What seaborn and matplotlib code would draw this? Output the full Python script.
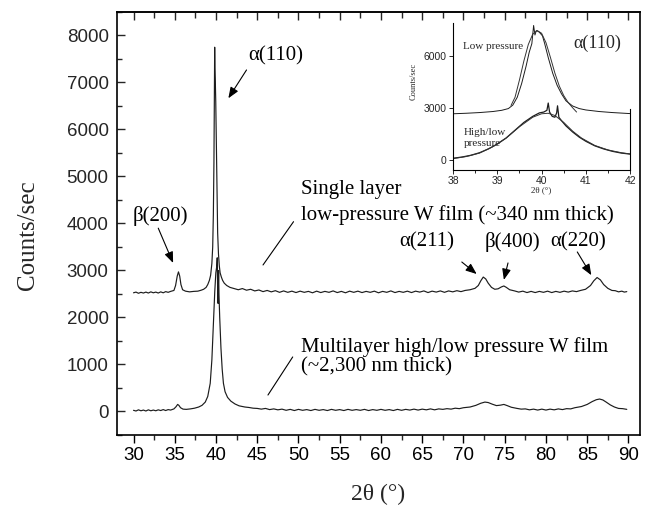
import matplotlib
matplotlib.use('Agg')
import matplotlib.pyplot as plt
import seaborn as sns
from matplotlib.ticker import MultipleLocator

# ---------------- data ----------------
# Single layer, low-pressure W film (main panel)
single_x = [30.0, 30.3, 30.6, 30.9, 31.2, 31.5, 31.8, 32.1, 32.4, 32.7, 33.0, 33.3, 33.6, 33.9,
            34.2, 34.5, 34.9, 35.1, 35.3, 35.45, 35.6, 35.75, 35.95, 36.3, 36.8, 37.3, 37.8,
            38.2, 38.5, 38.8, 39.0, 39.2, 39.35, 39.5, 39.6, 39.68, 39.75, 39.8, 39.84, 39.87,
            39.92, 39.97, 40.05, 40.12, 40.2, 40.3, 40.4, 40.5, 40.65, 40.8, 41.0, 41.3, 41.7,
            42.2, 42.7, 43.2, 43.7, 44.2, 44.7, 45.2, 45.7, 46.2, 46.7, 47.2, 47.7, 48.2, 48.7,
            49.2, 49.7, 50.2, 50.7, 51.2, 51.7, 52.2, 52.7, 53.2, 53.7, 54.2, 54.7, 55.2, 55.7,
            56.2, 56.7, 57.2, 57.7, 58.2, 58.7, 59.2, 59.7, 60.2, 60.7, 61.2, 61.7, 62.2, 62.7,
            63.2, 63.7, 64.2, 64.7, 65.2, 65.7, 66.2, 66.7, 67.2, 67.7, 68.2, 68.7, 69.2, 69.7,
            70.2, 70.8, 71.4, 71.8, 72.1, 72.4, 72.7, 73.0, 73.4, 73.8, 74.2, 74.6, 74.9, 75.2,
            75.6, 76.2, 76.7, 77.2, 77.7, 78.2, 78.7, 79.2, 79.7, 80.2, 80.7, 81.2, 81.7, 82.2,
            82.7, 83.2, 83.7, 84.2, 84.8, 85.4, 85.8, 86.2, 86.6, 87.0, 87.5, 88.0, 88.4, 88.8,
            89.2, 89.5, 89.8]
single_y = [2525, 2540, 2515, 2535, 2520, 2540, 2520, 2545, 2525, 2540, 2520, 2545, 2525, 2550,
            2535, 2555, 2575, 2680, 2880, 2970, 2880, 2700, 2590, 2560, 2545, 2555, 2560,
            2580, 2600, 2640, 2700, 2790, 2900, 3150, 3500, 4200, 5300, 6500, 7750, 7300,
            7000, 6600, 5600, 4600, 3800, 3350, 3100, 2950, 2860, 2790, 2730, 2680, 2640,
            2615, 2590, 2615, 2580, 2600, 2565, 2585, 2550, 2575, 2545, 2570, 2535, 2565, 2535,
            2560, 2530, 2560, 2535, 2555, 2525, 2560, 2530, 2555, 2535, 2565, 2530, 2555, 2525,
            2560, 2535, 2560, 2530, 2555, 2535, 2560, 2525, 2555, 2535, 2565, 2530, 2555, 2535,
            2560, 2530, 2560, 2540, 2565, 2530, 2560, 2540, 2565, 2535, 2565, 2545, 2570, 2550,
            2575, 2590, 2620, 2680, 2780, 2860, 2820, 2730, 2640, 2600, 2610, 2650, 2670, 2640,
            2590, 2565, 2540, 2560, 2530, 2555, 2530, 2555, 2535, 2560, 2530, 2555, 2535, 2560,
            2540, 2565, 2550, 2575, 2600, 2680, 2780, 2850, 2800, 2700, 2620, 2575, 2570, 2545,
            2560, 2540, 2550]

# Multilayer high/low pressure W film (main panel)
multi_x = [30.0, 30.3, 30.6, 30.9, 31.2, 31.5, 31.8, 32.1, 32.4, 32.7, 33.0, 33.3, 33.6, 33.9,
           34.2, 34.5, 34.9, 35.15, 35.35, 35.5, 35.7, 36.0, 36.4, 36.9, 37.4, 37.9, 38.3, 38.7,
           39.0, 39.3, 39.5, 39.7, 39.85, 39.98, 40.1, 40.15, 40.2, 40.25, 40.32, 40.36, 40.45,
           40.6, 40.75, 40.9, 41.1, 41.4, 41.8, 42.3, 42.8, 43.5, 44.0, 44.5, 45.0, 45.5, 46.0,
           46.5, 47.0, 47.5, 48.0, 48.5, 49.0, 49.5, 50.0, 50.5, 51.0, 51.5, 52.0, 52.5, 53.0,
           53.5, 54.0, 54.5, 55.0, 55.5, 56.0, 56.5, 57.0, 57.5, 58.0, 58.5, 59.0, 59.5, 60.0,
           60.5, 61.0, 61.5, 62.0, 62.5, 63.0, 63.5, 64.0, 64.5, 65.0, 65.5, 66.0, 66.5, 67.0,
           67.5, 68.0, 68.5, 69.0, 69.5, 70.0, 70.8, 71.5, 72.1, 72.6, 73.0, 73.5, 74.0, 74.5,
           74.9, 75.3, 75.8, 76.5, 77.0, 77.5, 78.0, 78.5, 79.0, 79.5, 80.0, 80.5, 81.0, 81.5,
           82.0, 82.5, 83.0, 83.5, 84.3, 85.0, 85.6, 86.1, 86.5, 86.9, 87.3, 87.8, 88.3, 88.8,
           89.3, 89.8]
multi_y = [25, 10, 35, 15, 30, 10, 35, 15, 30, 15, 35, 20, 40, 20,
           40, 30, 55, 100, 150, 130, 80, 50, 45, 55, 70, 95, 130, 200,
           320, 600, 1100, 1900, 2550, 2950, 3100, 3270, 2600, 2300, 3000, 2500, 2000,
           1350, 900, 600, 420, 300, 220, 160, 120, 95, 85, 70, 65, 50, 65,
           40, 55, 35, 50, 25, 45, 20, 45, 25, 40, 20, 45, 25, 40,
           20, 45, 25, 40, 20, 45, 25, 40, 25, 45, 20, 40, 25, 45,
           25, 40, 20, 45, 25, 45, 30, 50, 30, 50, 35, 55, 35, 55,
           45, 60, 50, 70, 60, 80, 95, 130, 175, 200, 190, 155, 125, 135,
           150, 125, 90, 65, 50, 55, 35, 50, 30, 50, 30, 50, 35, 55,
           40, 60, 55, 80, 105, 150, 210, 250, 265, 245, 200, 140, 95, 65,
           60, 45]

# Inset: alpha(110) region, low pressure (measured and fitted)
low_x = [38.0, 38.3, 38.6, 38.9, 39.1, 39.25, 39.35, 39.45, 39.55, 39.65, 39.72, 39.78, 39.82,
         39.85, 39.88, 39.93, 39.97, 40.02, 40.07, 40.15, 40.25, 40.35, 40.45, 40.55, 40.7,
         40.85, 41.0, 41.3, 41.6, 42.0]
low_y = [2650, 2680, 2720, 2780, 2850, 2950, 3150, 3600, 4400, 5400, 6200, 6700, 7750,
         7200, 7450, 7400, 7300, 7150, 6700, 5900, 5000, 4300, 3800, 3400, 3100,
         2950, 2870, 2780, 2720, 2660]
low_fit_x = [39.31, 39.4, 39.5, 39.6, 39.7, 39.8, 39.9, 40.0, 40.1, 40.2, 40.3, 40.4, 40.5,
             40.6, 40.7, 40.79]
low_fit_y = [3130, 3600, 4600, 5700, 6650, 7250, 7460, 7300, 6750, 5900, 5000, 4250, 3700,
             3300, 3000, 2750]

# Inset: high/low pressure (measured and fitted)
hl_x = [38.0, 38.2, 38.4, 38.6, 38.8, 39.0, 39.2, 39.4, 39.6, 39.8, 39.95, 40.05, 40.12, 40.15,
        40.18, 40.24, 40.3, 40.34, 40.36, 40.39, 40.45, 40.55, 40.7, 40.85, 41.0, 41.2, 41.4,
        41.6, 41.8, 42.0]
hl_y = [80, 150, 250, 400, 620, 900, 1250, 1700, 2150, 2500, 2700, 2750, 2850, 3270,
        2750, 2500, 2450, 2700, 3110, 2450, 2250, 1950, 1600, 1300, 1060, 800, 620,
        480, 380, 320]
hl_fit_x = [38.0, 38.3, 38.6, 38.9, 39.2, 39.5, 39.8, 40.0, 40.15, 40.3, 40.5, 40.7, 40.9,
            41.2, 41.5, 41.8, 42.0]
hl_fit_y = [60, 180, 380, 750, 1250, 1900, 2450, 2650, 2680, 2550, 2150, 1650, 1250,
            820, 560, 400, 330]

x_ticks = [30, 35, 40, 45, 50, 55, 60, 65, 70, 75, 80, 85, 90]
y_ticks = [0, 1000, 2000, 3000, 4000, 5000, 6000, 7000, 8000]
inset_x_ticks = [38, 39, 40, 41, 42]
inset_y_ticks = [0, 3000, 6000]

# ---------------- style ----------------
sns.set_theme(style='ticks')
plt.rcParams['font.family'] = ['Liberation Sans', 'DejaVu Sans']
plt.rcParams['axes.unicode_minus'] = False
SERIF = ['Liberation Serif', 'DejaVu Serif']
LINE = '#1c1c1c'

fig = plt.figure(figsize=(6.49, 5.20), dpi=100)
ax = fig.add_axes([0.1803, 0.1635, 0.8058, 0.8135])

sns.lineplot(x=single_x, y=single_y, ax=ax, color=LINE, lw=0.85, estimator=None, sort=False)
sns.lineplot(x=multi_x, y=multi_y, ax=ax, color=LINE, lw=0.85, estimator=None, sort=False)

ax.set_xlim(28, 91.4)
ax.set_ylim(-500, 8500)
ax.set_xticks(x_ticks)
ax.set_yticks(y_ticks)
ax.xaxis.set_minor_locator(MultipleLocator(2.5))
ax.yaxis.set_minor_locator(MultipleLocator(500))
ax.tick_params(axis='x', which='major', direction='out', length=6, width=1.0,
               labelsize=13.5, pad=3, colors='black')
ax.tick_params(axis='x', which='minor', direction='out', length=3.5, width=1.0)
ax.tick_params(axis='y', which='major', direction='in', length=6, width=1.0,
               labelsize=13.5, pad=6, left=True, right=False)
ax.tick_params(axis='y', which='minor', direction='in', length=3.5, width=1.0,
               left=True, right=False)
for s in ax.spines.values():
    s.set_linewidth(1.2)
    s.set_color('black')

top = ax.secondary_xaxis('top')
top.set_xticks(x_ticks)
top.xaxis.set_minor_locator(MultipleLocator(2.5))
top.tick_params(which='major', direction='in', length=6, width=1.0, labeltop=False)
top.tick_params(which='minor', direction='in', length=4, width=1.0)
top.spines['top'].set_linewidth(1.2)

ax.set_xlabel('2θ (°)', family=SERIF, fontsize=17)
ax.set_ylabel('Counts/sec', family=SERIF, fontsize=18)
ax.xaxis.set_label_coords(0.5, -0.115)
ax.yaxis.set_label_coords(-0.15, 0.473)

# annotations
TXT = dict(family=SERIF, fontsize=15, color='black')
ARROW = dict(arrowstyle='-|>,head_length=0.55,head_width=0.22', color='black', lw=0.8,
             shrinkA=0, shrinkB=0, mutation_scale=12)
PLAIN = dict(arrowstyle='-', color='black', lw=0.8, shrinkA=0, shrinkB=0)

ax.text(47.3, 7560, 'α(110)', ha='center', va='center', **TXT)
ax.annotate('', xy=(41.5, 6664), xytext=(43.7, 7266), arrowprops=ARROW)
ax.text(33.3, 4160, 'β(200)', ha='center', va='center', **TXT)
ax.annotate('', xy=(34.8, 3160), xytext=(33.0, 3900), arrowprops=ARROW)
ax.text(50.3, 4713, 'Single layer', ha='left', va='center', **TXT)
ax.text(50.3, 4180, 'low-pressure W film (~340 nm thick)', ha='left', va='center', **TXT)
ax.annotate('', xy=(45.7, 3117), xytext=(49.4, 4038), arrowprops=PLAIN)
ax.text(65.6, 3606, 'α(211)', ha='center', va='center', **TXT)
ax.annotate('', xy=(71.6, 2925), xytext=(69.8, 3180), arrowprops=ARROW)
ax.text(75.9, 3606, 'β(400)', ha='center', va='center', **TXT)
ax.annotate('', xy=(74.9, 2800), xytext=(75.4, 3160), arrowprops=ARROW)
ax.text(83.9, 3606, 'α(220)', ha='center', va='center', **TXT)
ax.annotate('', xy=(85.5, 2900), xytext=(83.8, 3394), arrowprops=ARROW)
ax.text(50.3, 1372, 'Multilayer high/low pressure W film', ha='left', va='center', **TXT)
ax.text(50.3, 947, '(~2,300 nm thick)', ha='left', va='center', **TXT)
ax.annotate('', xy=(46.3, 350), xytext=(49.3, 1160), arrowprops=PLAIN)

# ---------------- inset ----------------
ax_in = fig.add_axes([0.698, 0.673, 0.273, 0.283])
ax_in.set_facecolor('white')
sns.lineplot(x=low_x, y=low_y, ax=ax_in, color=LINE, lw=0.7, estimator=None, sort=False)
sns.lineplot(x=low_fit_x, y=low_fit_y, ax=ax_in, color='#333333', lw=0.7, estimator=None, sort=False)
sns.lineplot(x=hl_x, y=hl_y, ax=ax_in, color=LINE, lw=0.9, estimator=None, sort=False)
sns.lineplot(x=hl_fit_x, y=hl_fit_y, ax=ax_in, color='#333333', lw=0.7, estimator=None, sort=False)
ax_in.set_xlim(38, 42)
ax_in.set_ylim(-600, 7900)
ax_in.set_xticks(inset_x_ticks)
ax_in.set_yticks(inset_y_ticks)
ax_in.xaxis.set_minor_locator(MultipleLocator(0.5))
ax_in.tick_params(axis='both', which='major', direction='out', length=3, width=0.7,
                  labelsize=7.5, pad=1.5)
ax_in.tick_params(axis='x', which='minor', direction='out', length=1.8, width=0.7)
ax_in.spines['top'].set_visible(False)
ax_in.spines['right'].set_bounds(-600, 2900)
for s in ['left', 'bottom', 'right']:
    ax_in.spines[s].set_linewidth(0.8)
    ax_in.spines[s].set_color('black')
ax_in.set_xlabel('2θ (°)', family=SERIF, fontsize=6.5)
ax_in.set_ylabel('Counts/sec', family=SERIF, fontsize=6)
ax_in.xaxis.set_label_coords(0.5, -0.11)
ax_in.yaxis.set_label_coords(-0.2, 0.6)

ax_in.text(38.23, 6520, 'Low pressure', ha='left', va='center', family=SERIF, fontsize=8)
ax_in.text(41.26, 6690, 'α(110)', ha='center', va='center', family=SERIF, fontsize=13)
ax_in.text(38.25, 1560, 'High/low', ha='left', va='center', family=SERIF, fontsize=8)
ax_in.text(38.25, 920, 'pressure', ha='left', va='center', family=SERIF, fontsize=8)

fig.savefig('out.png', dpi=100)
